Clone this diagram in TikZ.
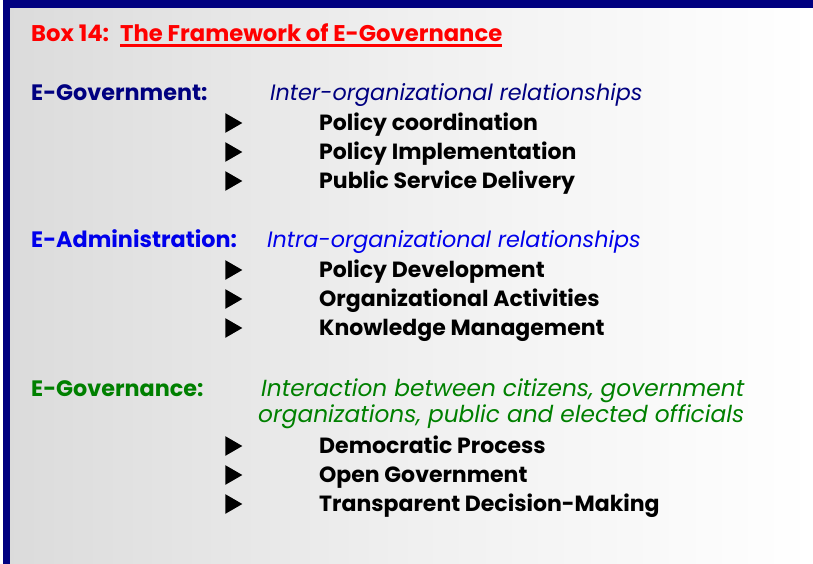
\documentclass[tikz,border=0pt]{standalone}
\usepackage{fontspec}
\setmainfont{Poppins}
\usetikzlibrary{shapes.geometric}

\definecolor{framenavy}{RGB}{0,0,128}
\definecolor{titlered}{RGB}{255,0,0}
\definecolor{govnavy}{RGB}{0,0,128}
\definecolor{adminblue}{RGB}{0,0,235}
\definecolor{egovgreen}{RGB}{0,128,0}

\begin{document}
\begin{tikzpicture}[x=1pt,y=-1pt,
    head/.style={anchor=base west,inner sep=0pt,font=\fontsize{22.3}{26}\selectfont\bfseries},
    title/.style={anchor=base west,inner sep=0pt,font=\fontsize{22.7}{26}\selectfont\bfseries,titlered},
    relation/.style={anchor=base west,inner sep=0pt,font=\fontsize{22.3}{26}\selectfont\itshape},
    item/.style={anchor=base west,inner sep=0pt,font=\fontsize{22}{26}\selectfont\bfseries},
    bullet/.style={isosceles triangle,fill=black,inner sep=0pt,minimum height=17pt,minimum width=16pt,isosceles triangle apex angle=60}]
  \useasboundingbox (0,0) rectangle (813,564);
  % background and frame
  \shade[left color=black!14,right color=white,middle color=black!6] (10,8) rectangle (813,564);
  \fill[framenavy] (3,0) rectangle (813,8);
  \fill[framenavy] (3,0) rectangle (10,564);

  \node[title] (box) at (31,42) {Box 14:};
  \node[title] (ttl) at (120,42) {The Framework of E-Governance};
  \draw[titlered,line width=2.5pt] ([yshift=-3.5pt]ttl.base west) -- ([yshift=-3.5pt]ttl.base east);

  % E-Government
  \node[head,govnavy] (egvt) at (31,101) {E-Government:};
  \node[relation,govnavy] (inter) at (270,101) {Inter-organizational relationships};
  \node[item] (pc) at (319,131) {Policy coordination};
  \node[item] (pi) at (319,160) {Policy Implementation};
  \node[item] (psd) at (319,189) {Public Service Delivery};
  \node[bullet] at (231,123) {};
  \node[bullet] at (231,152) {};
  \node[bullet] at (231,181) {};

  % E-Administration
  \node[head,adminblue] (eadm) at (31,247) {E-Administration:};
  \node[relation,adminblue] (intra) at (267,247) {Intra-organizational relationships};
  \node[item] (pd) at (319,277) {Policy Development};
  \node[item] (oa) at (319,306) {Organizational Activities};
  \node[item] (km) at (319,335) {Knowledge Management};
  \node[bullet] at (231,270) {};
  \node[bullet] at (231,299) {};
  \node[bullet] at (231,328) {};

  % E-Governance
  \node[head,egovgreen] (egov) at (31,396) {E-Governance:};
  \node[relation,egovgreen,font=\fontsize{23.3}{26}\selectfont\itshape] (interact) at (261,396) {Interaction between citizens, government};
  \node[relation,egovgreen,font=\fontsize{23.3}{26}\selectfont\itshape] (officials) at (258,422) {organizations, public and elected officials};
  \node[item] (dp) at (319,453) {Democratic Process};
  \node[item] (og) at (319,482) {Open Government};
  \node[item] (tdm) at (319,511) {Transparent Decision-Making};
  \node[bullet] at (231,446) {};
  \node[bullet] at (231,475) {};
  \node[bullet] at (231,504) {};
\end{tikzpicture}
\end{document}
